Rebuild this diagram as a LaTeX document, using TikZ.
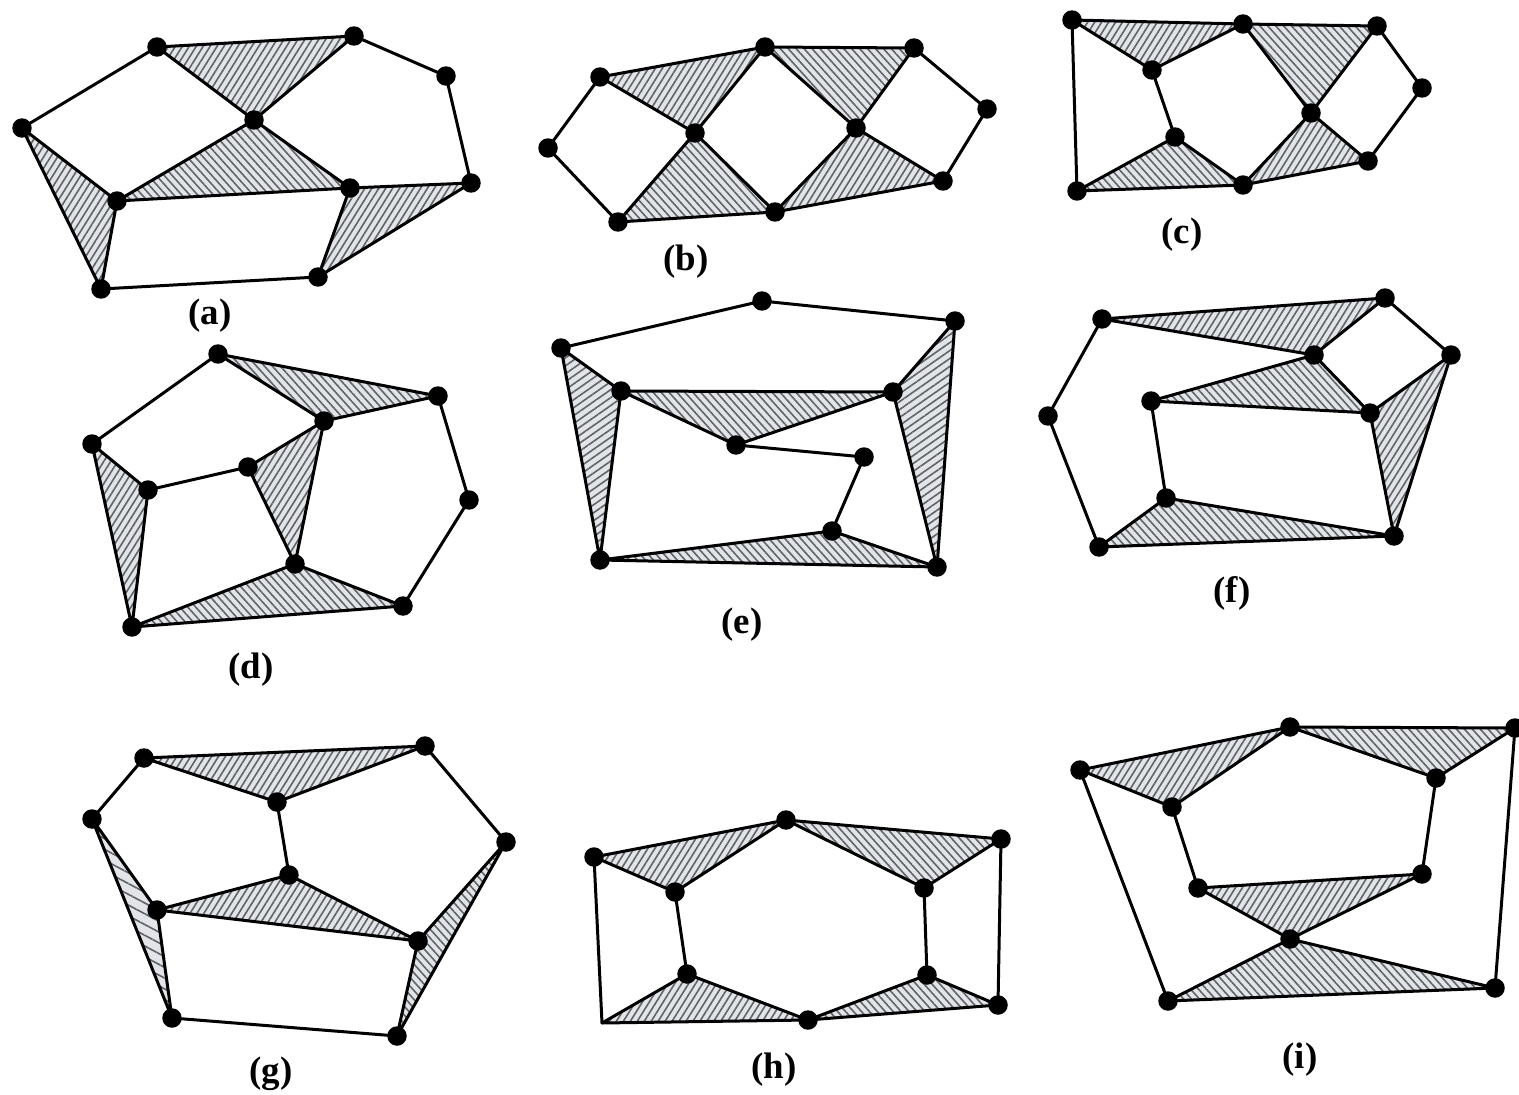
\documentclass[tikz,border=0pt]{standalone}
\usepackage{fontspec}
\setmainfont{Liberation Serif}
\usetikzlibrary{patterns.meta,backgrounds}
\definecolor{hatchline}{HTML}{5F6468}
\definecolor{hatchbg}{HTML}{E2E4E8}
\tikzset{
  vtx/.style={circle,fill=black,draw=none,minimum size=0.39cm,inner sep=0pt},
  edge/.style={draw=black,line width=0.06cm,line cap=round,line join=round},
  lab/.style={font=\fontsize{21}{24}\selectfont\bfseries,text=black,inner sep=0pt},
  hup/.style={pattern={Lines[angle=58,distance=0.118cm,line width=0.032cm]},pattern color=hatchline},
  hdn/.style={pattern={Lines[angle=-48,distance=0.118cm,line width=0.032cm]},pattern color=hatchline},
  hshallow/.style={pattern={Lines[angle=35,distance=0.13cm,line width=0.032cm]},pattern color=hatchline},
  hsparse/.style={pattern={Lines[angle=-28,distance=0.19cm,line width=0.032cm]},pattern color=hatchline},
}
\newcommand{\tri}[4]{%
  \fill[hatchbg] (#1.center) -- (#2.center) -- (#3.center) -- cycle;
  \path[#4] (#1.center) -- (#2.center) -- (#3.center) -- cycle;
  \draw[edge] (#1.center) -- (#2.center) -- (#3.center) -- cycle;
}
\newcommand{\vlist}[1]{\foreach \nm/\px/\py in {#1} \node[vtx] (\nm) at (\px,\py) {};}
\begin{document}
\begin{tikzpicture}[x=0.02cm,y=-0.02cm]
\useasboundingbox (0,0) rectangle (1519,1095);
% vertices
\vlist{a1/22/128,a2/157/47,a3/354/36,a4/446/76,a5/471/183,a6/350/188,a7/254/120,a8/117/201,a9/101/289,a10/318/277}
\vlist{b1/548/148,b2/600/77,b3/765/47,b4/914/48,b5/987/109,b6/943/181,b7/856/128,b8/775/212,b9/695/133,b10/618/222}
\vlist{c1/1072/20,c2/1243/24,c3/1377/26,c4/1422/88,c5/1368/161,c6/1311/113,c7/1243/185,c8/1175/137,c9/1077/191,c10/1152/70}
\vlist{d1/92/444,d2/218/354,d3/438/396,d4/469/500,d5/403/606,d6/295/564,d7/132/627,d8/148/490,d9/248/467,d10/324/421}
\vlist{e1/561/348,e2/762/301,e3/955/321,e4/893/392,e5/621/391,e6/736/445,e7/864/457,e8/832/531,e9/937/567,e10/600/560}
\vlist{f1/1048/416,f2/1102/319,f3/1385/298,f4/1451/355,f5/1370/413,f6/1314/355,f7/1151/401,f8/1166/498,f9/1099/547,f10/1394/536}
\vlist{g1/92/819,g2/144/758,g3/425/746,g4/506/842,g5/418/941,g6/289/875,g7/277/802,g8/157/910,g9/172/1018,g10/397/1036}
\vlist{h1/594/857,h2/786/820,h3/1001/839,h4/924/888,h5/675/892,h6/687/974,h7/927/975,h8/998/1005,h9/808/1020}
\coordinate (h10) at (602,1023);
\vlist{i1/1080/770,i2/1290/727,i3/1515/728,i4/1436/778,i5/1422/874,i6/1290/939,i7/1198/888,i8/1172/807,i9/1168/1001,i10/1495/988}
% labels
\node[lab] (la) at (210,316) {(a)};
\node[lab] (lb) at (686,262) {(b)};
\node[lab] (lc) at (1182,235) {(c)};
\node[lab] (ld) at (251,670) {(d)};
\node[lab] (le) at (742,625) {(e)};
\node[lab] (lf) at (1232,593) {(f)};
\node[lab] (lg) at (271,1074) {(g)};
\node[lab] (lh) at (774,1070) {(h)};
\node[lab] (li) at (1300,1060) {(i)};
\begin{scope}[on background layer]
\tri{a2}{a3}{a7}{hup}\tri{a7}{a8}{a6}{hdn}\tri{a1}{a8}{a9}{hup}\tri{a6}{a5}{a10}{hup}
\tri{b2}{b3}{b9}{hup}\tri{b3}{b4}{b7}{hdn}\tri{b9}{b10}{b8}{hdn}\tri{b7}{b8}{b6}{hup}
\tri{c1}{c2}{c10}{hup}\tri{c2}{c3}{c6}{hdn}\tri{c9}{c8}{c7}{hdn}\tri{c7}{c6}{c5}{hup}
\tri{d2}{d3}{d10}{hdn}\tri{d1}{d8}{d7}{hup}\tri{d9}{d10}{d6}{hup}\tri{d7}{d6}{d5}{hdn}
\tri{e1}{e5}{e10}{hshallow}\tri{e5}{e4}{e6}{hdn}\tri{e3}{e4}{e9}{hshallow}\tri{e10}{e8}{e9}{hdn}
\tri{f2}{f3}{f6}{hup}\tri{f7}{f6}{f5}{hdn}\tri{f4}{f5}{f10}{hup}\tri{f9}{f8}{f10}{hdn}
\tri{g2}{g3}{g7}{hup}\tri{g8}{g6}{g5}{hup}\tri{g1}{g8}{g9}{hsparse}\tri{g5}{g4}{g10}{hdn}
\tri{h1}{h2}{h5}{hup}\tri{h2}{h3}{h4}{hdn}\tri{h10}{h6}{h9}{hup}\tri{h9}{h7}{h8}{hdn}
\tri{i1}{i2}{i8}{hup}\tri{i2}{i3}{i4}{hdn}\tri{i7}{i5}{i6}{hup}\tri{i9}{i6}{i10}{hdn}
\foreach \p/\q in {a1/a2,a3/a4,a4/a5,a9/a10,
  b1/b2,b1/b10,b4/b5,b5/b6,
  c1/c9,c10/c8,c3/c4,c4/c5,
  d1/d2,d8/d9,d3/d4,d4/d5,
  e1/e2,e2/e3,e6/e7,e7/e8,
  f1/f2,f1/f9,f3/f4,f7/f8,
  g1/g2,g3/g4,g7/g6,g9/g10,
  h1/h10,h3/h8,h5/h6,h4/h7,
  i1/i9,i3/i10,i8/i7,i4/i5}
  \draw[edge] (\p.center) -- (\q.center);
\end{scope}
\end{tikzpicture}
\end{document}
